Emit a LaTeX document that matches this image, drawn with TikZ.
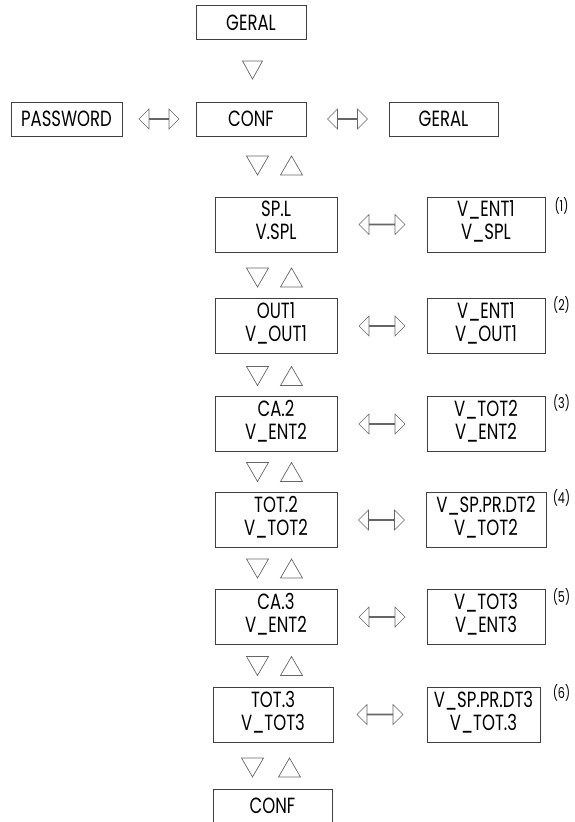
\documentclass[tikz,border=0pt]{standalone}
\usepackage{fontspec}
\setmainfont{Poppins}[FakeStretch=0.75]
\usetikzlibrary{shapes.arrows}

\begin{document}
\begin{tikzpicture}[x=1pt, y=-1pt,
	menu/.style={draw=black!75, line width=0.8pt, inner sep=0pt, align=center, font=\fontsize{22}{23}\selectfont},
	onebox/.style={menu, minimum width=110pt, minimum height=34pt},
	twobox/.style={menu, minimum height=55pt, text depth=8pt},
	lrarrow/.style={double arrow, draw=black!60, line width=0.6pt, inner sep=0pt, minimum width=20pt, minimum height=46pt, double arrow head extend=5.5pt},
	tri/.style={draw=black!60, line width=0.7pt, line join=miter},
	refnum/.style={inner sep=0pt, font=\fontsize{15}{17}\selectfont}]
		\useasboundingbox (0,0) rectangle (574,822);
		\node[onebox] (geral) at (251,22.5) {GERAL};
		\node[onebox, minimum width=111pt] (password) at (66.5,119) {PASSWORD};
		\node[onebox] (conf) at (251,119) {CONF};
		\node[onebox, minimum width=109pt] (geral2) at (443.5,119) {GERAL};
		\node[twobox, minimum width=122pt] (spl) at (276,224.5) {SP.L\\V.SPL};
		\node[twobox, minimum width=118pt] (vspl) at (486,224.5) {V\_ENT1\\V\_SPL};
		\node[twobox, minimum width=122pt] (out1) at (276,326) {OUT1\\V\_OUT1};
		\node[twobox, minimum width=118pt] (vout1) at (486,326) {V\_ENT1\\V\_OUT1};
		\node[twobox, minimum width=122pt] (ca2) at (276,424) {CA.2\\V\_ENT2};
		\node[twobox, minimum width=118pt] (vca2) at (486,424) {V\_TOT2\\V\_ENT2};
		\node[twobox, minimum width=122pt] (tot2) at (276,520) {TOT.2\\V\_TOT2};
		\node[twobox, minimum width=120pt] (vtot2) at (486,520) {V\_SP.PR.DT2\\V\_TOT2};
		\node[twobox, minimum width=122pt] (ca3) at (276,617) {CA.3\\V\_ENT2};
		\node[twobox, minimum width=118pt] (vca3) at (486,617) {V\_TOT3\\V\_ENT3};
		\node[twobox, minimum width=120pt] (tot3) at (273,714.5) {TOT.3\\V\_TOT3};
		\node[twobox, minimum width=113pt] (vtot3) at (483.5,714.5) {V\_SP.PR.DT3\\V\_TOT.3};
		\node[onebox, minimum width=119pt] (confend) at (272.5,806) {CONF};
		\path (password) -- node[lrarrow, minimum height=40pt] (a0) {} (conf);
		\path (conf) -- node[lrarrow, minimum height=40pt] (a1) {} (geral2);
		\path (spl) -- node[lrarrow] (a2) {} (vspl);
		\path (out1) -- node[lrarrow] (a3) {} (vout1);
		\path (ca2) -- node[lrarrow] (a4) {} (vca2);
		\path (tot2) -- node[lrarrow] (a5) {} (vtot2);
		\path (ca3) -- node[lrarrow] (a6) {} (vca3);
		\path (tot3) -- node[lrarrow] (a7) {} (vtot3);
		\draw[tri] (242.5,61) -- (262.5,61) -- (252.5,79) -- cycle;
		\foreach \y/\x/\d in {165.5/257.5/34, 277.5/257.5/34, 376/257.5/34, 472/257.5/34, 568.5/257.5/34, 666/257.5/34, 767.5/252.5/37}{
			\draw[tri] (\x-11,\y-9.5) -- (\x+11,\y-9.5) -- (\x,\y+9.5) -- cycle;
			\draw[tri] (\x+\d-11,\y+9.5) -- (\x+\d+11,\y+9.5) -- (\x+\d,\y-9.5) -- cycle;
		}
		\foreach \t [count=\k] in {206,305,403,498,597,693}{
			\node[refnum] (n\k) at (561.5,\t) {(\k)};
		}
	\end{tikzpicture}
\end{document}
